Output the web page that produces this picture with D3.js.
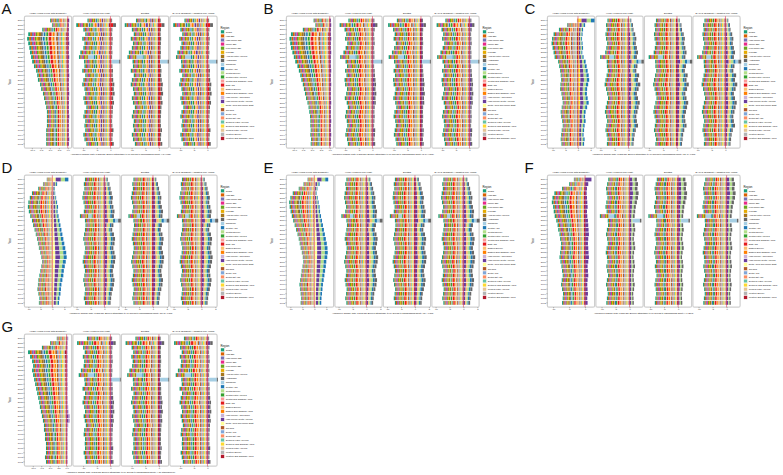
<!DOCTYPE html>
<html>
<head>
<meta charset="utf-8">
<script src="https://cdn.jsdelivr.net/npm/d3@7"></script>
<style>
  body { margin: 0; background: #fff; }
  svg text { font-family: "Liberation Sans", Arial, sans-serif; }
</style>
</head>
<body>
<svg id="chart" width="783" height="475"></svg>
<script>
const regions = ["Global", "High SDI", "High-middle SDI", "Middle SDI", "Low-middle SDI", "Low SDI",
  "Andean Latin America", "Australasia", "Caribbean", "Central Asia", "Central Europe",
  "Central Latin America", "Central Sub-Saharan Africa", "East Asia", "Eastern Europe",
  "Eastern Sub-Saharan Africa", "High-income Asia Pacific", "High-income North America",
  "North Africa and Middle East", "Oceania", "South Asia", "Southeast Asia",
  "Southern Latin America", "Southern Sub-Saharan Africa", "Tropical Latin America",
  "Western Europe", "Western Sub-Saharan Africa"];
const regionColors = ["#1b9e77", "#d95f02", "#7570b3", "#e7298a", "#66a61e", "#e6ab02",
  "#a6761d", "#666666", "#a6cee3", "#1f78b4", "#b2df8a", "#33a02c", "#fb9a99", "#e31a1c",
  "#fdbf6f", "#ff7f00", "#cab2d6", "#6a3d9a", "#ffff99", "#b15928", "#80a6d8", "#fc8d62",
  "#66c2a5", "#ffd92f", "#e5c494", "#b3b3b3", "#b2182b"];

const years = ["2019", "2018", "2017", "2016", "2015", "2014", "2013", "2012", "2011", "2010",
  "2009", "2008", "2007", "2006", "2005", "2004", "2003", "2002", "2001", "2000",
  "1999", "1998", "1997", "1996", "1995", "1994", "1993", "1992"];

const facetNames = ["YLDs (Years Lived with Disability)", "YLLs (Years of Life Lost)",
  "Deaths", "DALYs (Disability-Adjusted Life Years)"];
const panelLetters = ["A", "B", "C", "D", "E", "F", "G"];
const ageGroups = ["<5 years", "5-14 years", "15-49 years", "50-69 years", "70+ years",
  "All ages", "Age-standardized"];

// share of each region inside the negative / positive part of a bar
const negWeight = [1.2, 1.1, 1.2, 1.0, 1.1, 1.0, 1.4, 1.0, 0.6, 1.0, 0.6, 1.1, 0.7, 1.5,
  0.8, 1.1, 0.6, 1.3, 0.5, 1.1, 0.9, 0.9, 0.9, 1.0, 0.7, 0.6, 1.0];
const posWeight = [1, 1, 1, 1, 1, 1, 1, 1.3, 1, 1, 1.2, 1, 1, 1.2, 1, 1, 1, 1.5, 1, 1, 1,
  1, 1, 1, 1, 1, 1];

// regions that sit right of zero, per panel
const yldPosRegions = [[17], [17], [10, 17, 23, 9], [17, 10, 18, 9], [17, 10, 18, 9], [17], [17, 16]];
const mortPosRegions = [[13, 7], [7, 17], [14, 10, 17, 9, 7], [14, 10, 17, 9, 7],
  [14, 10, 17, 9, 7], [10, 7, 17], [7, 17]];

// total left (negative) and right (positive) reach of each year's bar, A..G
const yldLow = [
  [4.9, 4.4, 7.1, 11.0, 11.3, 11.0, 10.7, 10.5, 10.2, 9.9, 9.4, 8.8, 8.5, 8.3, 7.7, 7.4, 6.9, 6.6, 6.3, 6.0, 5.8, 5.8, 5.8, 5.8, 6.0, 6.0, 6.0, 6.0],
  [4.5, 4.0, 7.5, 10.8, 11.2, 11.0, 10.8, 10.4, 10.0, 9.6, 9.0, 8.6, 8.2, 7.9, 7.5, 7.2, 6.9, 6.6, 6.2, 5.9, 5.7, 5.5, 5.4, 5.4, 5.3, 5.4, 5.2, 5.3],
  [0.4, 4.3, 7.5, 9.6, 10.2, 10.4, 10.0, 9.6, 9.2, 7.8, 7.4, 7.0, 6.8, 6.6, 6.9, 7.0, 6.5, 6.2, 6.0, 6.4, 6.8, 6.6, 6.2, 6.0, 6.4, 6.6, 6.8, 6.5],
  [2.3, 3.9, 5.9, 8.5, 9.4, 10.0, 10.2, 9.8, 9.2, 8.5, 8.0, 7.4, 6.9, 6.4, 6.0, 5.6, 5.0, 4.6, 4.3, 4.6, 5.0, 5.4, 5.8, 6.0, 6.2, 5.8, 5.4, 5.6],
  [2.8, 4.5, 6.5, 9.0, 10.0, 10.5, 10.3, 9.9, 9.4, 8.8, 8.2, 7.6, 7.0, 6.5, 6.1, 5.7, 5.2, 4.8, 4.6, 4.9, 5.3, 5.6, 5.9, 6.2, 6.0, 5.7, 5.5, 5.7],
  [3.5, 5.0, 7.2, 9.6, 10.2, 10.4, 10.0, 9.8, 9.5, 9.0, 8.6, 8.4, 8.0, 7.8, 7.5, 7.6, 7.8, 8.0, 7.7, 7.4, 7.2, 7.0, 7.3, 7.5, 7.2, 6.9, 7.0, 7.2],
  [2.9, 4.9, 7.3, 11.4, 10.8, 10.2, 9.9, 10.2, 9.9, 9.6, 9.3, 9.0, 8.7, 8.4, 8.1, 7.9, 7.6, 7.3, 7.0, 6.7, 6.7, 6.4, 6.4, 6.1, 6.1, 6.1, 6.4, 6.1]
];
const yldHigh = [
  [0.4, 0.3, 0.3, 0.3, 0.3, 0.4, 0.3, 0.3, 0.4, 0.3, 0.3, 0.3, 0.4, 0.3, 0.3, 0.3, 0.4, 0.3, 0.3, 0.3, 0.3, 0.4, 0.3, 0.3, 0.3, 0.3, 0.4, 0.3],
  [0.3, 0.4, 0.3, 0.3, 0.4, 0.3, 0.3, 0.4, 0.3, 0.3, 0.3, 0.4, 0.3, 0.3, 0.4, 0.3, 0.3, 0.3, 0.4, 0.3, 0.3, 0.3, 0.4, 0.3, 0.3, 0.4, 0.3, 0.3],
  [6.5, 2.8, 2.0, 1.8, 1.6, 1.8, 2.0, 1.7, 2.2, 3.0, 3.4, 3.8, 4.2, 4.4, 4.0, 3.6, 3.5, 3.8, 4.2, 3.6, 3.0, 2.8, 3.0, 2.6, 2.4, 2.2, 2.6, 2.4],
  [6.7, 2.0, 1.1, 1.2, 1.6, 2.0, 2.4, 2.2, 2.6, 3.0, 3.4, 3.8, 4.2, 4.6, 5.0, 5.4, 5.8, 6.0, 5.6, 5.2, 4.8, 4.6, 4.2, 3.8, 3.6, 3.4, 3.0, 2.8],
  [5.8, 2.2, 1.3, 1.0, 1.4, 1.8, 2.2, 2.4, 2.8, 3.2, 3.6, 4.0, 4.4, 4.8, 5.2, 5.5, 5.6, 5.4, 5.0, 4.8, 4.5, 4.2, 3.9, 3.6, 3.4, 3.2, 3.0, 2.9],
  [2.0, 1.0, 0.6, 0.5, 0.6, 0.7, 0.8, 0.6, 0.7, 0.9, 1.0, 1.1, 1.2, 1.0, 0.9, 1.0, 1.1, 1.2, 1.0, 0.8, 0.9, 1.0, 0.8, 0.7, 0.8, 0.9, 0.7, 0.8],
  [0.5, 0.4, 0.4, 0.3, 0.4, 0.4, 0.3, 0.4, 0.4, 0.3, 0.4, 0.4, 0.3, 0.4, 0.4, 0.5, 0.6, 1.0, 1.0, 0.5, 0.4, 0.4, 0.3, 0.4, 0.4, 0.3, 0.4, 0.4]
];
const mortLow = [
  [8.4, 12.5, 9.9, 9.2, 10.3, 9.5, 9.9, 11.0, 9.5, 9.9, 9.5, 10.3, 9.2, 9.9, 10.3, 9.5, 9.2, 9.9, 9.5, 8.8, 9.5, 9.9, 9.2, 9.5, 9.2, 9.9, 9.5, 8.8],
  [8.8, 12.0, 10.2, 9.6, 10.0, 9.2, 9.8, 10.6, 9.8, 10.1, 9.3, 10.0, 9.5, 10.2, 10.0, 9.3, 9.6, 10.1, 9.4, 9.0, 9.7, 10.0, 9.4, 9.2, 9.6, 9.9, 9.3, 9.0],
  [7.5, 8.0, 7.8, 8.2, 8.0, 7.6, 7.9, 8.3, 8.6, 8.0, 7.7, 7.4, 7.8, 8.2, 8.5, 8.0, 7.6, 7.3, 7.7, 8.1, 8.4, 8.0, 7.6, 7.9, 8.2, 7.8, 7.5, 7.7],
  [7.0, 7.4, 7.2, 7.6, 7.9, 7.5, 7.1, 7.4, 7.8, 7.2, 6.8, 7.0, 7.3, 7.6, 7.2, 6.9, 7.1, 7.5, 7.8, 7.4, 7.0, 7.2, 7.6, 7.3, 6.9, 7.1, 7.4, 7.0],
  [7.2, 7.6, 7.4, 7.8, 8.0, 7.7, 7.3, 7.6, 8.0, 7.4, 7.0, 7.2, 7.5, 7.8, 7.4, 7.1, 7.3, 7.7, 8.0, 7.6, 7.2, 7.4, 7.8, 7.5, 7.1, 7.3, 7.6, 7.2],
  [7.6, 8.0, 8.4, 8.2, 7.9, 8.3, 8.6, 8.2, 8.8, 8.0, 7.7, 8.1, 8.4, 8.0, 7.8, 8.2, 8.5, 8.1, 7.9, 8.3, 8.0, 7.7, 8.1, 8.4, 8.0, 7.8, 8.1, 8.3],
  [8.6, 12.2, 10.0, 9.4, 10.1, 9.6, 9.8, 10.8, 9.6, 9.8, 9.4, 10.2, 9.3, 9.8, 10.2, 9.6, 9.3, 9.8, 9.4, 9.0, 9.6, 9.8, 9.3, 9.4, 9.3, 9.8, 9.4, 9.0]
];
const mortHigh = [
  [0.6, 2.0, 0.7, 0.6, 0.8, 0.7, 0.6, 0.7, 0.6, 0.8, 0.7, 0.9, 0.8, 1.0, 1.4, 1.2, 1.5, 1.0, 1.3, 0.9, 0.8, 0.7, 0.6, 0.7, 1.1, 0.8, 0.7, 1.2],
  [0.7, 1.8, 0.8, 0.6, 0.7, 0.8, 0.6, 0.7, 0.7, 0.8, 0.6, 0.8, 0.9, 1.1, 1.3, 1.1, 1.4, 1.1, 1.2, 0.8, 0.7, 0.8, 0.7, 0.6, 1.0, 0.9, 0.7, 1.0],
  [1.0, 1.6, 1.8, 2.4, 2.8, 2.6, 3.0, 3.4, 3.0, 4.6, 3.2, 2.8, 3.8, 3.4, 4.2, 3.6, 3.0, 3.4, 4.0, 3.6, 3.2, 2.8, 3.0, 3.4, 2.6, 2.2, 2.0, 1.8],
  [1.2, 1.8, 2.2, 2.6, 3.0, 2.8, 3.2, 3.6, 3.4, 5.0, 3.2, 2.8, 3.4, 3.8, 3.6, 3.2, 3.6, 4.0, 3.8, 3.4, 3.0, 3.2, 3.6, 3.4, 3.0, 2.6, 2.4, 2.2],
  [1.4, 2.0, 2.4, 2.8, 3.2, 3.0, 3.4, 3.8, 3.6, 4.8, 3.4, 3.0, 3.6, 4.0, 3.8, 3.4, 3.8, 4.2, 4.0, 3.6, 3.2, 3.4, 3.8, 3.6, 3.2, 2.8, 2.6, 2.4],
  [2.6, 3.0, 2.8, 3.2, 3.0, 2.6, 2.2, 2.0, 1.8, 1.6, 1.8, 2.0, 1.7, 1.5, 1.8, 2.0, 1.6, 1.4, 1.7, 1.9, 1.6, 1.4, 1.5, 1.8, 1.6, 1.3, 1.4, 1.5],
  [0.6, 1.9, 0.7, 0.6, 0.7, 0.8, 0.6, 0.7, 0.6, 0.8, 0.7, 0.8, 0.8, 1.0, 1.3, 1.1, 1.4, 1.0, 1.2, 0.9, 0.8, 0.7, 0.7, 0.7, 1.0, 0.8, 0.7, 1.1]
];
// Caribbean 2011 drop and 2010 spike in the mortality facets
const caribDrop = [2.0, 2.0, 1.5, 1.0, 1.0, 1.8, 2.0];
const caribSpike = [2.8, 2.8, 1.0, 1.0, 1.0, 2.6, 3.0];

const yldDomain = [[-11.9, 0.9], [-11.9, 0.9], [-11.8, 6.3], [-11.4, 7.8], [-11.4, 7.8], [-11.6, 2.8], [-12.3, 1.3]];
const mortDomain = [[-13.5, 3.3], [-13.5, 3.3], [-11.4, 5.0], [-11.1, 5.4], [-11.1, 5.4], [-11.8, 4.6], [-13.5, 3.3]];
const yldTicks = [[-10, -7.5, -5, -2.5, 0], [-10, -7.5, -5, -2.5, 0], [-10, -5, 0, 5], [-10, -5, 0, 5],
  [-10, -5, 0, 5], [-10, -5, 0], [-10, -7.5, -5, -2.5, 0]];
const mortTicks = [[-10, -5, 0], [-10, -5, 0], [-10, -5, 0], [-10, -5, 0, 5], [-10, -5, 0, 5],
  [-10, -5, 0], [-10, -5, 0]];

const svg = d3.select("#chart");
svg.append("rect").attr("width", 783).attr("height", 475).attr("fill", "#fff");

const panelX = [0, 262, 523], panelY = [0, 159, 318];
const facetLeft = [25, 73.5, 122, 170.5], facetW = 46;
const plotTop = 17.8, plotBottom = 146.6;
const BASE = 10; // texts are drawn at 10px and scaled down

function tinyText(parent, x, y, size, str, anchor, rotate) {
  return parent.append("text")
    .attr("transform", `translate(${x},${y})${rotate ? " rotate(-90)" : ""} scale(${size / BASE})`)
    .attr("text-anchor", anchor || "start")
    .style("font-size", BASE + "px")
    .attr("fill", "#111")
    .text(str);
}

function shrinkAxisText(sel, size, dx, dy) {
  sel.selectAll("text")
    .attr("x", null).attr("y", null)
    .attr("transform", `translate(${dx},${dy}) scale(${size / BASE})`)
    .attr("font-size", null).attr("font-family", null)
    .style("font-size", BASE + "px")
    .attr("fill", "#333");
}

function rowValues(low, high, posSet) {
  const neg = regions.map((_, r) => posSet.includes(r) ? 0 : negWeight[r]);
  const pos = regions.map((_, r) => posSet.includes(r) ? posWeight[r] : 0);
  const sn = d3.sum(neg), sp = d3.sum(pos);
  return regions.map((_, r) => -low * neg[r] / sn + (sp ? high * pos[r] / sp : 0));
}

function fmtTick(ticks) {
  const frac = ticks.some(t => !Number.isInteger(t));
  return t => frac ? t.toFixed(1) : String(t);
}

panelLetters.forEach((letter, p) => {
  const g = svg.append("g")
    .attr("transform", `translate(${panelX[p % 3]},${panelY[Math.floor(p / 3)]})`);

  g.append("text").attr("x", 1.5).attr("y", 14)
    .style("font-size", "15px").attr("fill", "#111").text(letter);

  const y = d3.scaleBand().domain(years).range([plotTop, plotBottom]).padding(0.18);

  facetNames.forEach((fname, f) => {
    const isYld = f === 0;
    const dom = isYld ? yldDomain[p] : mortDomain[p];
    const x = d3.scaleLinear().domain(dom).range([facetLeft[f], facetLeft[f] + facetW]);

    g.append("rect")
      .attr("x", facetLeft[f] - 0.6).attr("y", plotTop - 1.6)
      .attr("width", facetW + 1.2).attr("height", plotBottom - plotTop + 3.2)
      .attr("rx", 1.5).attr("fill", "#fff")
      .attr("stroke", "#cfcfcf").attr("stroke-width", 1.2);

    tinyText(g, facetLeft[f] + facetW / 2, 13.6, 2.5, fname, "middle");

    years.forEach((yr, i) => {
      const low = isYld ? yldLow[p][i] : mortLow[p][i];
      const high = isYld ? yldHigh[p][i] : mortHigh[p][i];
      const vals = rowValues(low, high, isYld ? yldPosRegions[p] : mortPosRegions[p]);
      if (!isYld && i === 8) vals[8] -= caribDrop[p];
      if (!isYld && i === 9) vals[8] = caribSpike[p];
      let negAcc = 0, posAcc = 0;
      for (let r = regions.length - 1; r >= 0; r--) {
        const v = vals[r];
        if (v === 0) continue;
        let a, b;
        if (v < 0) { a = negAcc + v; b = negAcc; negAcc = a; }
        else { a = posAcc; b = posAcc + v; posAcc = b; }
        g.append("rect")
          .attr("x", x(a)).attr("y", y(yr))
          .attr("width", Math.max(0, x(b) - x(a))).attr("height", y.bandwidth())
          .attr("fill", regionColors[r]);
      }
    });

    g.append("line")
      .attr("x1", x(0)).attr("x2", x(0))
      .attr("y1", plotTop - 1.6).attr("y2", plotBottom + 1.6)
      .attr("stroke", "#e0304a").attr("stroke-opacity", 0.8).attr("stroke-width", 0.7);

    const ticks = isYld ? yldTicks[p] : mortTicks[p];
    const ax = g.append("g")
      .attr("transform", `translate(0,${plotBottom + 1.6})`)
      .call(d3.axisBottom(x).tickValues(ticks).tickFormat(fmtTick(ticks)).tickSize(1.1));
    ax.select(".domain").remove();
    ax.selectAll("line").attr("stroke", "#444").attr("stroke-width", 0.4);
    shrinkAxisText(ax, 2.3, 0, 1.6);

    if (f === 0) {
      const ay = g.append("g")
        .attr("transform", `translate(${facetLeft[0] - 0.6},0)`)
        .call(d3.axisLeft(y).tickSize(1));
      ay.select(".domain").remove();
      ay.selectAll("line").attr("stroke", "#444").attr("stroke-width", 0.4);
      shrinkAxisText(ay, 2.3, -1.5, 0);
    }
  });

  tinyText(g, 11, 82, 2.7, "Year", "middle", true);

  tinyText(g, (facetLeft[0] + facetLeft[3] + facetW) / 2, 154.8, 2.2,
    `Annualized Change Rate of Disease Burden attributable to no access to handwashing facility (${ageGroups[p]})`,
    "middle");

  // legend
  const lg = g.append("g").attr("transform", "translate(220.5,0)");
  tinyText(lg, 0, 29, 2.8, "Region");
  regions.forEach((name, r) => {
    const cy = 31.8 + r * 4.1;
    lg.append("rect").attr("x", 0.3).attr("y", cy - 1.75).attr("width", 3.5).attr("height", 3.5)
      .attr("fill", regionColors[r]).attr("stroke", "#fff").attr("stroke-width", 0.3);
    tinyText(lg, 5.2, cy + 0.8, 2.2, name);
  });
});
</script>
</body>
</html>
